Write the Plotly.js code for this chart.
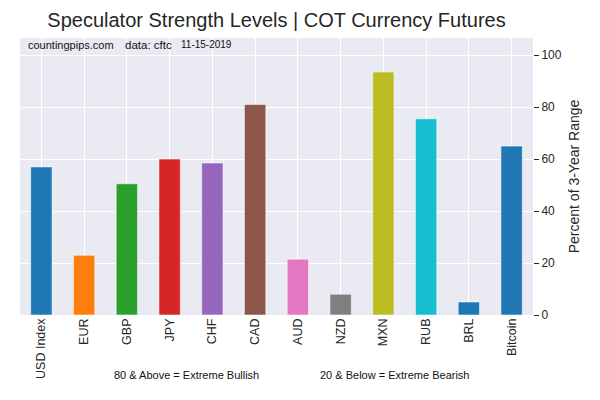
<!DOCTYPE html>
<html>
<head>
<meta charset="utf-8">
<script src="https://cdn.plot.ly/plotly-3.0.1.min.js"></script>
<style>
  html, body { margin: 0; padding: 0; background: #fff; }
  #chart { width: 600px; height: 400px; }
</style>
</head>
<body>
<div id="chart"></div>
<script>
// COT currency futures, speculator strength (% of 3-year range)
const currencies = ['USD Index', 'EUR', 'GBP', 'JPY', 'CHF', 'CAD', 'AUD', 'NZD', 'MXN', 'RUB', 'BRL', 'Bitcoin'];
const strength = [57, 23, 50.5, 60, 58.5, 81, 21.5, 8, 93.5, 75.5, 5, 65];
const barColors = ['#1f77b4', '#ff7f0e', '#2ca02c', '#d62728', '#9467bd', '#8c564b',
                   '#e377c2', '#7f7f7f', '#bcbd22', '#17becf', '#1f77b4', '#1f77b4'];
const yTicks = [0, 20, 40, 60, 80, 100];

const font = 'Liberation Sans, Arial, sans-serif';

const trace = {
  x: currencies,
  y: strength,
  type: 'bar',
  width: 0.5,
  marker: {color: barColors, line: {color: 'rgba(255,255,255,0.55)', width: 1}},
  hoverinfo: 'x+y',
};

const layout = {
  width: 600,
  height: 400,
  margin: {l: 20, r: 67, t: 38, b: 85},
  paper_bgcolor: '#ffffff',
  plot_bgcolor: '#eaeaf2',
  font: {family: font, color: '#262626', size: 12},
  showlegend: false,
  bargap: 0.5,
  title: {
    text: 'Speculator Strength Levels | COT Currency Futures',
    font: {size: 20, color: '#262626'},
    xref: 'paper', x: 0.5, xanchor: 'center', y: 0.95, yanchor: 'middle',
  },
  xaxis: {
    range: [-0.5, 11.5],
    tickangle: -90,
    showgrid: true,
    gridcolor: '#ffffff',
    gridwidth: 1,
    zeroline: false,
    ticks: '',
    tickfont: {size: 12.5, color: '#262626'},
  },
  yaxis: {
    side: 'right',
    range: [0, 106.6],
    tickvals: yTicks,
    ticks: 'outside',
    ticklen: 5,
    tickcolor: '#262626',
    showgrid: true,
    gridcolor: '#ffffff',
    gridwidth: 1,
    zeroline: false,
    tickfont: {size: 12, color: '#262626'},
    title: {text: 'Percent of 3-Year Range', font: {size: 14, color: '#262626'}, standoff: 8},
  },
  annotations: [
    {text: 'countingpips.com', xref: 'paper', yref: 'paper', x: 0.012, y: 0.975,
      xanchor: 'left', yanchor: 'middle', showarrow: false, font: {size: 11, color: '#111'}},
    {text: 'data: cftc', xref: 'paper', yref: 'paper', x: 0.2, y: 0.975,
      xanchor: 'left', yanchor: 'middle', showarrow: false, font: {size: 11.5, color: '#111'}},
    {text: '11-15-2019', xref: 'paper', yref: 'paper', x: 0.31, y: 0.975,
      xanchor: 'left', yanchor: 'middle', showarrow: false, font: {size: 10, color: '#111'}},
    {text: '80 & Above = Extreme Bullish', xref: 'paper', yref: 'paper', x: 0.325, y: -0.215,
      xanchor: 'center', yanchor: 'middle', showarrow: false, font: {size: 11, color: '#111'}},
    {text: '20 & Below = Extreme Bearish', xref: 'paper', yref: 'paper', x: 0.731, y: -0.215,
      xanchor: 'center', yanchor: 'middle', showarrow: false, font: {size: 11, color: '#111'}},
  ],
};

Plotly.newPlot('chart', [trace], layout, {displayModeBar: false, staticPlot: true});
</script>
</body>
</html>
